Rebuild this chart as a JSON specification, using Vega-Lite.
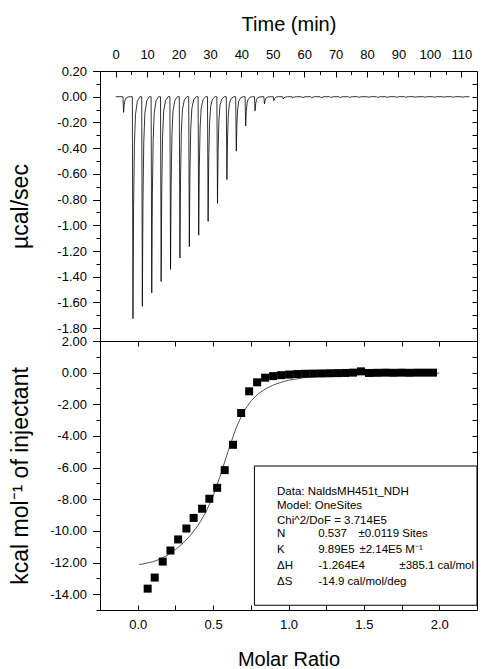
{
  "$schema": "https://vega.github.io/schema/vega-lite/v6.json",
  "background": "white",
  "padding": {"left": 8, "top": 13, "right": 5, "bottom": 5},
  "config": {
    "font": "Liberation Sans",
    "view": {"stroke": "#000", "strokeWidth": 1},
    "axis": {
      "domain": false, "grid": false, "labelFlush": false, "labelOverlap": false,
      "labelFont": "Liberation Sans", "labelFontSize": 13, "labelColor": "#000",
      "tickColor": "#000", "tickWidth": 1,
      "titleFont": "Liberation Sans", "titleFontSize": 20, "titleFontWeight": "normal", "titleColor": "#000"
    }
  },
  "spacing": 0,
  "bounds": "flush",
  "datasets": {
    "thermo": [
      {"t":0,"p":0},
      {"t":2.3,"p":0},{"t":2.5,"p":-0.122},{"t":2.7,"p":-0.061},{"t":2.95,"p":-0.027},{"t":3.3,"p":-0.01},{"t":3.9,"p":-0.002},{"t":4.7,"p":0},
      {"t":5.29,"p":0},{"t":5.49,"p":-1.726},{"t":5.69,"p":-0.863},{"t":5.94,"p":-0.38},{"t":6.29,"p":-0.138},{"t":6.89,"p":-0.035},{"t":7.69,"p":0},
      {"t":8.28,"p":0},{"t":8.48,"p":-1.63},{"t":8.68,"p":-0.815},{"t":8.93,"p":-0.359},{"t":9.28,"p":-0.13},{"t":9.88,"p":-0.033},{"t":10.68,"p":0},
      {"t":11.27,"p":0},{"t":11.47,"p":-1.526},{"t":11.67,"p":-0.763},{"t":11.92,"p":-0.336},{"t":12.27,"p":-0.122},{"t":12.87,"p":-0.031},{"t":13.67,"p":0},
      {"t":14.26,"p":0},{"t":14.46,"p":-1.437},{"t":14.66,"p":-0.719},{"t":14.91,"p":-0.316},{"t":15.26,"p":-0.115},{"t":15.86,"p":-0.029},{"t":16.66,"p":0},
      {"t":17.25,"p":0},{"t":17.45,"p":-1.343},{"t":17.65,"p":-0.672},{"t":17.9,"p":-0.295},{"t":18.25,"p":-0.107},{"t":18.85,"p":-0.027},{"t":19.65,"p":0},
      {"t":20.24,"p":0},{"t":20.44,"p":-1.254},{"t":20.64,"p":-0.627},{"t":20.89,"p":-0.276},{"t":21.24,"p":-0.1},{"t":21.84,"p":-0.025},{"t":22.64,"p":0},
      {"t":23.23,"p":0},{"t":23.43,"p":-1.166},{"t":23.63,"p":-0.583},{"t":23.88,"p":-0.257},{"t":24.23,"p":-0.093},{"t":24.83,"p":-0.023},{"t":25.63,"p":0},
      {"t":26.22,"p":0},{"t":26.42,"p":-1.077},{"t":26.62,"p":-0.539},{"t":26.87,"p":-0.237},{"t":27.22,"p":-0.086},{"t":27.82,"p":-0.022},{"t":28.62,"p":0},
      {"t":29.21,"p":0},{"t":29.41,"p":-0.97},{"t":29.61,"p":-0.485},{"t":29.86,"p":-0.213},{"t":30.21,"p":-0.078},{"t":30.81,"p":-0.019},{"t":31.61,"p":0},
      {"t":32.2,"p":0},{"t":32.4,"p":-0.829},{"t":32.6,"p":-0.415},{"t":32.85,"p":-0.182},{"t":33.2,"p":-0.066},{"t":33.8,"p":-0.017},{"t":34.6,"p":0},
      {"t":35.19,"p":0},{"t":35.39,"p":-0.644},{"t":35.59,"p":-0.322},{"t":35.84,"p":-0.142},{"t":36.19,"p":-0.052},{"t":36.79,"p":-0.013},{"t":37.59,"p":0},
      {"t":38.18,"p":0},{"t":38.38,"p":-0.423},{"t":38.58,"p":-0.212},{"t":38.83,"p":-0.093},{"t":39.18,"p":-0.034},{"t":39.78,"p":-0.008},{"t":40.58,"p":0},
      {"t":41.17,"p":0},{"t":41.37,"p":-0.227},{"t":41.57,"p":-0.114},{"t":41.82,"p":-0.05},{"t":42.17,"p":-0.018},{"t":42.77,"p":-0.005},{"t":43.57,"p":0},
      {"t":44.16,"p":0},{"t":44.36,"p":-0.11},{"t":44.56,"p":-0.055},{"t":44.81,"p":-0.024},{"t":45.16,"p":-0.009},{"t":45.76,"p":-0.002},{"t":46.56,"p":0},
      {"t":47.15,"p":0},{"t":47.35,"p":-0.057},{"t":47.55,"p":-0.029},{"t":47.8,"p":-0.013},{"t":48.15,"p":-0.005},{"t":48.75,"p":-0.001},{"t":49.55,"p":0},
      {"t":50.14,"p":0},{"t":50.34,"p":-0.031},{"t":50.54,"p":-0.016},{"t":50.79,"p":-0.007},{"t":51.14,"p":-0.002},{"t":51.74,"p":0},
      {"t":53.13,"p":0},{"t":53.33,"p":-0.018},{"t":53.6,"p":-0.008},{"t":54.1,"p":-0.002},{"t":54.7,"p":0},
      {"t":56.12,"p":0},{"t":56.32,"p":-0.01},{"t":56.6,"p":-0.004},{"t":57.5,"p":0},
      {"t":59.11,"p":0},{"t":59.36,"p":-0.008},{"t":60.31,"p":0},
      {"t":62.1,"p":0},{"t":62.35,"p":-0.007},{"t":63.3,"p":0},
      {"t":65.09,"p":0},{"t":65.34,"p":-0.007},{"t":66.29,"p":0},
      {"t":68.08,"p":0},{"t":68.33,"p":-0.006},{"t":69.28,"p":0},
      {"t":71.07,"p":0},{"t":71.32,"p":-0.006},{"t":72.27,"p":0},
      {"t":74.06,"p":0},{"t":74.31,"p":-0.006},{"t":75.26,"p":0},
      {"t":77.05,"p":0},{"t":77.3,"p":-0.005},{"t":78.25,"p":0},
      {"t":80.04,"p":0},{"t":80.29,"p":-0.005},{"t":81.24,"p":0},
      {"t":83.03,"p":0},{"t":83.28,"p":-0.005},{"t":84.23,"p":0},
      {"t":86.02,"p":0},{"t":86.27,"p":-0.005},{"t":87.22,"p":0},
      {"t":89.01,"p":0},{"t":89.26,"p":-0.005},{"t":90.21,"p":0},
      {"t":92.0,"p":0},{"t":92.25,"p":-0.004},{"t":93.2,"p":0},
      {"t":94.99,"p":0},{"t":95.24,"p":-0.004},{"t":96.19,"p":0},
      {"t":97.98,"p":0},{"t":98.23,"p":-0.004},{"t":99.18,"p":0},
      {"t":100.97,"p":0},{"t":101.22,"p":-0.004},{"t":102.17,"p":0},
      {"t":103.96,"p":0},{"t":104.21,"p":-0.004},{"t":105.16,"p":0},
      {"t":106.95,"p":0},{"t":107.2,"p":-0.004},{"t":108.15,"p":0},
      {"t":109.94,"p":0},{"t":110.19,"p":-0.004},{"t":111.14,"p":0},
      {"t":112.6,"p":0}
    ],
    "itc": [
      {"r":0.066,"q":-13.65},{"r":0.113,"q":-12.95},{"r":0.166,"q":-11.94},{"r":0.217,"q":-11.24},
      {"r":0.268,"q":-10.54},{"r":0.323,"q":-9.85},{"r":0.371,"q":-9.18},{"r":0.427,"q":-8.6},
      {"r":0.475,"q":-7.97},{"r":0.527,"q":-7.28},{"r":0.577,"q":-6.16},{"r":0.632,"q":-4.56},
      {"r":0.686,"q":-2.55},{"r":0.739,"q":-1.18},{"r":0.792,"q":-0.61},{"r":0.845,"q":-0.32},
      {"r":0.898,"q":-0.22},{"r":0.951,"q":-0.16},{"r":1.004,"q":-0.12},{"r":1.057,"q":-0.09},
      {"r":1.11,"q":-0.07},{"r":1.163,"q":-0.06},{"r":1.216,"q":-0.05},{"r":1.269,"q":-0.04},
      {"r":1.322,"q":-0.03},{"r":1.375,"q":-0.02},{"r":1.428,"q":0.0},{"r":1.481,"q":0.08},
      {"r":1.534,"q":-0.02},{"r":1.587,"q":-0.01},{"r":1.64,"q":0.0},{"r":1.693,"q":-0.01},
      {"r":1.746,"q":0.0},{"r":1.799,"q":-0.01},{"r":1.852,"q":0.0},{"r":1.905,"q":0.0},{"r":1.958,"q":0.0}
    ],
    "fit": [
      {"r":0.01,"q":-12.13},{"r":0.05,"q":-12.06},{"r":0.1,"q":-11.95},{"r":0.15,"q":-11.78},
      {"r":0.2,"q":-11.52},{"r":0.25,"q":-11.18},{"r":0.3,"q":-10.78},{"r":0.35,"q":-10.28},
      {"r":0.4,"q":-9.66},{"r":0.45,"q":-8.85},{"r":0.5,"q":-7.8},{"r":0.55,"q":-6.45},
      {"r":0.6,"q":-4.95},{"r":0.65,"q":-3.55},{"r":0.7,"q":-2.5},{"r":0.75,"q":-1.8},
      {"r":0.8,"q":-1.33},{"r":0.85,"q":-1.01},{"r":0.9,"q":-0.78},{"r":0.95,"q":-0.61},
      {"r":1.0,"q":-0.48},{"r":1.1,"q":-0.32},{"r":1.2,"q":-0.22},{"r":1.3,"q":-0.16},
      {"r":1.4,"q":-0.11},{"r":1.5,"q":-0.08},{"r":1.7,"q":-0.05},{"r":2.0,"q":-0.03}
    ]
  },
  "vconcat": [
    {
      "width": 377, "height": 270,
      "layer": [
        {
          "data": {"name": "thermo"},
          "mark": {"type": "line", "stroke": "#000", "strokeWidth": 0.8},
          "encoding": {
            "x": {"field": "t", "type": "quantitative",
              "scale": {"domain": [-5, 115], "nice": false, "zero": false},
              "axis": {"orient": "top", "values": [0,10,20,30,40,50,60,70,80,90,100,110], "ticks": false, "labelPadding": 10,
                "title": "Time (min)", "titleY": -47, "titleBaseline": "middle"}},
            "y": {"field": "p", "type": "quantitative",
              "scale": {"domain": [-1.9, 0.2], "nice": false, "zero": false},
              "axis": {"orient": "left", "values": [0.2,0,-0.2,-0.4,-0.6,-0.8,-1,-1.2,-1.4,-1.6,-1.8], "tickSize": 7.5, "labelPadding": 6,
                "labelExpr": "replace(format(datum.value, '.2f'), '\u2212', '-')",
                "title": "µcal/sec", "titleFontSize": 23, "titleX": -80, "titleBaseline": "middle"}}
          }
        },
        {
          "data": {"name": "thermo"},
          "mark": {"type": "point", "opacity": 0},
          "encoding": {
            "x": {"field": "t", "type": "quantitative",
              "axis": {"orient": "top", "values": [0,10,20,30,40,50,60,70,80,90,100,110], "tickSize": -6, "labels": false, "title": null}},
            "y": {"field": "p", "type": "quantitative",
              "axis": {"orient": "left", "values": [0.1,-0.1,-0.3,-0.5,-0.7,-0.9,-1.1,-1.3,-1.5,-1.7], "tickSize": 4, "labels": false, "title": null}}
          }
        },
        {
          "data": {"name": "thermo"},
          "mark": {"type": "point", "opacity": 0},
          "encoding": {
            "x": {"field": "t", "type": "quantitative",
              "axis": {"orient": "top", "values": [5,15,25,35,45,55,65,75,85,95,105], "tickSize": -3.5, "labels": false, "title": null}},
            "y": {"field": "p", "type": "quantitative",
              "axis": {"orient": "right", "values": [0.1,0,-0.1,-0.2,-0.3,-0.4,-0.5,-0.6,-0.7,-0.8,-0.9,-1,-1.1,-1.2,-1.3,-1.4,-1.5,-1.6,-1.7,-1.8], "tickSize": -5, "labels": false, "title": null}}
          }
        }
      ],
      "resolve": {"axis": {"x": "independent", "y": "independent"}}
    },
    {
      "width": 377, "height": 269,
      "layer": [
        {
          "data": {"name": "fit"},
          "mark": {"type": "line", "stroke": "#555", "strokeWidth": 1},
          "encoding": {
            "x": {"field": "r", "type": "quantitative",
              "scale": {"domain": [-0.25, 2.25], "nice": false, "zero": false},
              "axis": {"orient": "top", "values": [-0.25,0,0.25,0.5,0.75,1,1.25,1.5,1.75,2], "tickSize": -5, "labels": false, "title": null}},
            "y": {"field": "q", "type": "quantitative",
              "scale": {"domain": [-15, 2], "nice": false, "zero": false},
              "axis": {"orient": "left", "values": [1,-1,-3,-5,-7,-9,-11,-13,-15], "tickSize": 4, "labels": false, "title": null}}
          }
        },
        {
          "data": {"name": "itc"},
          "mark": {"type": "square", "size": 64, "color": "#000", "opacity": 1, "filled": true},
          "encoding": {
            "x": {"field": "r", "type": "quantitative",
              "axis": {"orient": "bottom", "values": [0,0.5,1,1.5,2], "format": ".1f", "ticks": false, "labelPadding": 8,
                "title": "Molar Ratio", "titleY": 49, "titleBaseline": "middle"}},
            "y": {"field": "q", "type": "quantitative",
              "axis": {"orient": "left", "values": [2,0,-2,-4,-6,-8,-10,-12,-14], "tickSize": 7.5, "labelPadding": 6,
                "labelExpr": "replace(format(datum.value, '.2f'), '\u2212', '-')",
                "title": "kcal mol⁻¹ of injectant", "titleFontSize": 23, "titleX": -80, "titleBaseline": "middle"}}
          }
        },
        {
          "data": {"name": "itc"},
          "mark": {"type": "point", "opacity": 0},
          "encoding": {
            "x": {"field": "r", "type": "quantitative",
              "axis": {"orient": "bottom", "values": [-0.25,0,0.25,0.5,0.75,1,1.25,1.5,1.75,2], "tickSize": -5, "labels": false, "title": null}},
            "y": {"field": "q", "type": "quantitative",
              "axis": {"orient": "right", "values": [1,0,-1,-2,-3,-4,-5,-6,-7,-8,-9,-10,-11,-12,-13,-14], "tickSize": -5, "labels": false, "title": null}}
          }
        },
        {
          "data": {"values": [{}]},
          "mark": {"type": "rect", "fill": "white", "stroke": "#000", "strokeWidth": 1},
          "encoding": {
            "x": {"datum": 0.774, "type": "quantitative", "axis": null},
            "x2": {"datum": 2.25},
            "y": {"datum": -5.9, "type": "quantitative", "axis": null},
            "y2": {"datum": -14.7}
          }
        },
        {
          "data": {"values": [{}]},
          "mark": {"type": "text", "align": "left", "baseline": "middle", "fontSize": 11.5, "lineHeight": 14.7, "font": "Liberation Sans", "color": "#000",
            "text": ["Data: NaldsMH451t_NDH", "Model: OneSites", "Chi^2/DoF = 3.714E5"]},
          "encoding": {
            "x": {"datum": 0.924, "type": "quantitative", "axis": null},
            "y": {"datum": -7.52, "type": "quantitative", "axis": null}
          }
        },
        {
          "data": {"values": [{}]},
          "mark": {"type": "text", "align": "left", "baseline": "middle", "fontSize": 11.5, "lineHeight": 15.9, "font": "Liberation Sans", "color": "#000",
            "text": ["N", "K", "ΔH", "ΔS"]},
          "encoding": {
            "x": {"datum": 0.924, "type": "quantitative", "axis": null},
            "y": {"datum": -10.2, "type": "quantitative", "axis": null}
          }
        },
        {
          "data": {"values": [{}]},
          "mark": {"type": "text", "align": "left", "baseline": "middle", "fontSize": 11.5, "lineHeight": 15.9, "font": "Liberation Sans", "color": "#000",
            "text": ["0.537", "9.89E5", "-1.264E4", "-14.9 cal/mol/deg"]},
          "encoding": {
            "x": {"datum": 1.197, "type": "quantitative", "axis": null},
            "y": {"datum": -10.2, "type": "quantitative", "axis": null}
          }
        },
        {
          "data": {"values": [{}]},
          "mark": {"type": "text", "align": "left", "baseline": "middle", "fontSize": 11.5, "font": "Liberation Sans", "color": "#000", "text": "±0.0119 Sites"},
          "encoding": {
            "x": {"datum": 1.464, "type": "quantitative", "axis": null},
            "y": {"datum": -10.2, "type": "quantitative", "axis": null}
          }
        },
        {
          "data": {"values": [{}]},
          "mark": {"type": "text", "align": "left", "baseline": "middle", "fontSize": 11.5, "font": "Liberation Sans", "color": "#000", "text": "±2.14E5 M⁻¹"},
          "encoding": {
            "x": {"datum": 1.47, "type": "quantitative", "axis": null},
            "y": {"datum": -11.2, "type": "quantitative", "axis": null}
          }
        },
        {
          "data": {"values": [{}]},
          "mark": {"type": "text", "align": "left", "baseline": "middle", "fontSize": 11.5, "font": "Liberation Sans", "color": "#000", "text": "±385.1 cal/mol"},
          "encoding": {
            "x": {"datum": 1.735, "type": "quantitative", "axis": null},
            "y": {"datum": -12.21, "type": "quantitative", "axis": null}
          }
        }
      ],
      "resolve": {"axis": {"x": "independent", "y": "independent"}}
    }
  ]
}
